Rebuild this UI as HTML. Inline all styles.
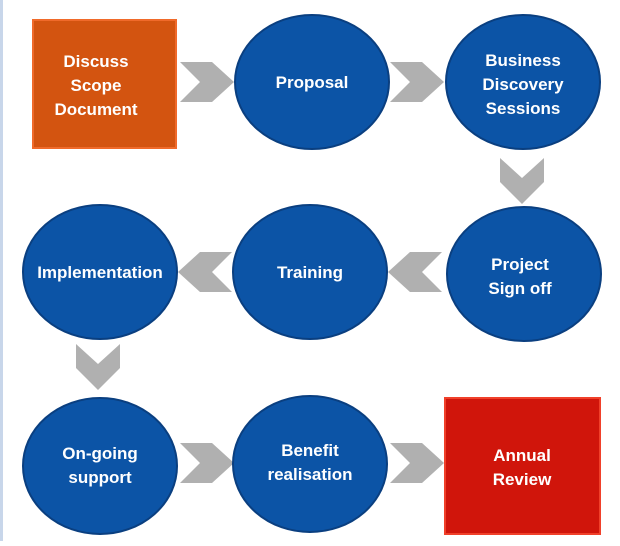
<!DOCTYPE html><html><head><style>body{margin:0;background:#fff}svg text{font-family:"Liberation Sans",sans-serif;font-weight:bold;fill:#fff;font-size:17px;text-anchor:middle}</style></head><body>
<svg width="620" height="541" viewBox="0 0 620 541">
<rect x="0" y="0" width="3" height="541" fill="#c8d6ea"/>
<defs><polygon id="cr" points="0,0 32,0 54,20 32,40 0,40 20,20" fill="#b0b0b0"/>
<polygon id="cd" points="0,0 22,20 44,0 44,24 22,46 0,24" fill="#b0b0b0"/></defs>
<rect x="33" y="20" width="143" height="128" fill="#d35410" stroke="#f06a2a" stroke-width="2"/>
<text x="96" y="67">Discuss</text><text x="96" y="91">Scope</text><text x="96" y="115">Document</text>
<use href="#cr" x="180" y="62"/><use href="#cr" x="390" y="62"/>
<use href="#cr" x="180" y="395" transform="translate(0,48)"/><use href="#cr" x="390" y="443"/>
<g transform="translate(232,252) scale(-1,1)"><use href="#cr"/></g>
<g transform="translate(442,252) scale(-1,1)"><use href="#cr"/></g>
<use href="#cd" x="500" y="158"/><use href="#cd" x="76" y="344"/>
<g fill="#0c54a6" stroke="#0a3f80" stroke-width="2">
<ellipse cx="312" cy="82" rx="77" ry="67"/><ellipse cx="523" cy="82" rx="77" ry="67"/>
<ellipse cx="100" cy="272" rx="77" ry="67"/><ellipse cx="310" cy="272" rx="77" ry="67"/><ellipse cx="524" cy="274" rx="77" ry="67"/>
<ellipse cx="100" cy="466" rx="77" ry="68"/><ellipse cx="310" cy="464" rx="77" ry="68"/></g>
<text x="312" y="88">Proposal</text>
<text x="523" y="66">Business</text><text x="523" y="90">Discovery</text><text x="523" y="114">Sessions</text>
<text x="100" y="278">Implementation</text><text x="310" y="278">Training</text>
<text x="520" y="270">Project</text><text x="520" y="294">Sign off</text>
<text x="100" y="459">On-going</text><text x="100" y="483">support</text>
<text x="310" y="456">Benefit</text><text x="310" y="480">realisation</text>
<rect x="445" y="398" width="155" height="136" fill="#d0150b" stroke="#f0402a" stroke-width="2"/>
<text x="522" y="461">Annual</text><text x="522" y="485">Review</text>
</svg></body></html>
